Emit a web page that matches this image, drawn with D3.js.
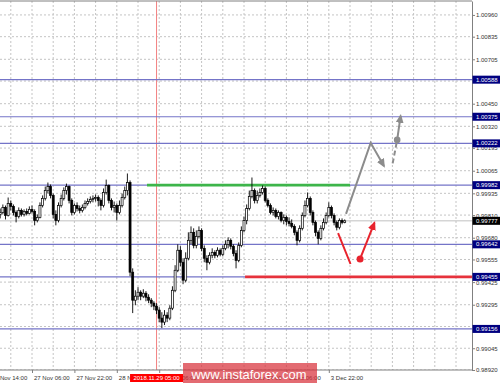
<!DOCTYPE html>
<html>
<head>
<meta charset="utf-8">
<script src="https://cdn.jsdelivr.net/npm/d3@7"></script>
<style>
  body { margin: 0; background: #fff; overflow: hidden; }
  svg { display: block; font-family: "Liberation Sans", Arial, sans-serif; }
</style>
</head>
<body>
<div id="chart"></div>
<script>
// EURCHF H1, one bar per hour (bar 0 = 26 Nov 18:00)
const firstOpen = 0.99814;
const closes = [
  0.99825,0.99854,0.99808,0.99877,0.99860,0.99825,0.99802,0.99837,0.99814,0.99831,
  0.99820,0.99843,0.99831,0.99779,0.99797,0.99865,0.99906,0.99951,0.99974,0.99923,
  0.99814,0.99779,0.99865,0.99906,0.99951,0.99974,0.99894,0.99825,0.99865,0.99848,
  0.99837,0.99854,0.99877,0.99888,0.99900,0.99906,0.99911,0.99894,0.99865,0.99940,
  0.99980,0.99894,0.99854,0.99865,0.99825,0.99865,0.99911,0.99951,0.99997,0.99482,
  0.99321,0.99344,0.99367,0.99344,0.99361,0.99338,0.99321,0.99304,0.99287,0.99264,
  0.99218,0.99195,0.99235,0.99218,0.99275,0.99378,0.99493,0.99608,0.99539,0.99436,
  0.99562,0.99665,0.99711,0.99636,0.99688,0.99722,0.99619,0.99562,0.99539,0.99579,
  0.99596,0.99579,0.99608,0.99585,0.99619,0.99642,0.99665,0.99631,0.99590,0.99550,
  0.99636,0.99722,0.99779,0.99848,0.99917,0.99951,0.99894,0.99923,0.99940,0.99963,
  0.99894,0.99865,0.99825,0.99837,0.99802,0.99825,0.99779,0.99797,0.99774,0.99762,
  0.99745,0.99711,0.99665,0.99734,0.99808,0.99865,0.99906,0.99825,0.99768,0.99711,
  0.99676,0.99734,0.99768,0.99808,0.99854,0.99808,0.99768,0.99740,0.99779,0.99768,
  0.99777
];
const highs = [
  0.99848,0.99871,0.99865,0.99911,0.99894,0.99871,0.99837,0.99854,0.99848,0.99843,
  0.99848,0.99860,0.99865,0.99843,0.99814,0.99883,0.99923,0.99974,0.99997,0.99986,
  0.99934,0.99837,0.99883,0.99928,0.99969,0.99991,0.99980,0.99906,0.99877,0.99883,
  0.99865,0.99871,0.99894,0.99906,0.99917,0.99923,0.99928,0.99923,0.99906,0.99963,
  1.00014,0.99986,0.99906,0.99888,0.99877,0.99894,0.99934,0.99974,1.00049,1.00009,
  0.99504,0.99378,0.99396,0.99378,0.99384,0.99373,0.99355,0.99333,0.99315,0.99304,
  0.99281,0.99252,0.99264,0.99252,0.99292,0.99401,0.99522,0.99642,0.99631,0.99562,
  0.99596,0.99711,0.99745,0.99734,0.99722,0.99745,0.99734,0.99636,0.99579,0.99596,
  0.99619,0.99608,0.99625,0.99619,0.99636,0.99665,0.99682,0.99676,0.99642,0.99608,
  0.99653,0.99745,0.99802,0.99871,0.99951,1.00026,0.99963,0.99951,0.99963,0.99980,
  0.99974,0.99906,0.99877,0.99854,0.99848,0.99837,0.99831,0.99814,0.99808,0.99797,
  0.99785,0.99757,0.99722,0.99751,0.99825,0.99894,0.99940,0.99917,0.99837,0.99779,
  0.99722,0.99751,0.99791,0.99825,0.99883,0.99865,0.99820,0.99779,0.99791,0.99791,
  0.99785
];
const lows = [
  0.99791,0.99814,0.99785,0.99802,0.99837,0.99808,0.99768,0.99791,0.99802,0.99802,
  0.99808,0.99814,0.99820,0.99751,0.99768,0.99791,0.99854,0.99894,0.99934,0.99906,
  0.99791,0.99751,0.99768,0.99854,0.99894,0.99928,0.99877,0.99808,0.99814,0.99831,
  0.99820,0.99825,0.99843,0.99865,0.99877,0.99883,0.99888,0.99860,0.99837,0.99854,
  0.99928,0.99877,0.99837,0.99825,0.99779,0.99814,0.99854,0.99900,0.99923,0.99459,
  0.99247,0.99292,0.99321,0.99321,0.99333,0.99315,0.99304,0.99281,0.99264,0.99241,
  0.99195,0.99161,0.99178,0.99195,0.99206,0.99264,0.99367,0.99482,0.99516,0.99413,
  0.99424,0.99550,0.99642,0.99619,0.99619,0.99676,0.99602,0.99539,0.99493,0.99527,
  0.99562,0.99562,0.99567,0.99573,0.99573,0.99608,0.99619,0.99613,0.99573,0.99504,
  0.99539,0.99625,0.99711,0.99757,0.99837,0.99906,0.99877,0.99877,0.99911,0.99928,
  0.99883,0.99854,0.99814,0.99808,0.99791,0.99785,0.99768,0.99757,0.99751,0.99745,
  0.99734,0.99694,0.99636,0.99653,0.99722,0.99797,0.99854,0.99808,0.99751,0.99688,
  0.99642,0.99665,0.99722,0.99757,0.99797,0.99791,0.99751,0.99722,0.99728,0.99757,
  0.99763
];

const priceTicks = [1.00960,1.00835,1.00705,1.00580,1.00450,1.00320,1.00195,1.00065,
  0.99935,0.99810,0.99680,0.99555,0.99425,0.99295,0.99170,0.99045,0.98920];
const timeTickBars = [-4,12,28,44,60,76,92,108,124];
const timeTickLabels = ["26 Nov 14:00","27 Nov 06:00","27 Nov 22:00","28 Nov 14:00",
  "29 Nov 06:00","29 Nov 22:00","30 Nov 14:00","3 Dec 06:00","3 Dec 22:00"];

const levels = [1.00588,1.00375,1.00222,0.99982,0.99642,0.99455,0.99156];
const bidPrice = 0.99777;
const markedBar = 59, markedLabel = "2018.11.29 05:00";

// drawn zones: [price, fromBar, toBar]
const resistance = [0.99982, 55.4, 132];
const support = [0.99455, 92.4, 178];

// forecast paths: [bar, price]
const grayPath = [[130.5,0.99817],[139.8,1.00225],[144.8,1.00092]];
const grayDash = [[148.1,1.00107],[149.8,1.00242]];
const grayUp = [[149.8,1.00242],[151.1,1.00380]];
const redPath = [[127.5,0.99707],[132.2,0.99529]];
const redUp = [[135.8,0.99558],[141.2,0.99765]];

const width = 500, height = 386;
const plotRight = 472, plotBottom = 370;

const svg = d3.select("#chart").append("svg")
  .attr("width", width).attr("height", height);

const x = d3.scaleLinear().domain([0, 178]).range([0.2, 0.2 + 178 * 2.65]);
const y = d3.scaleLinear().domain([0.98920, 1.01040]).range([plotBottom, 1]);

const defs = svg.append("defs");
[["gray", "#8c8c8c"], ["red", "#e8232d"]].forEach(([id, col]) => {
  defs.append("marker")
    .attr("id", "head-" + id)
    .attr("markerUnits", "userSpaceOnUse")
    .attr("markerWidth", 10).attr("markerHeight", 8)
    .attr("refX", 7).attr("refY", 4)
    .attr("orient", "auto")
    .append("path").attr("d", "M0,0 L9,4 L0,8 z").attr("fill", col);
});

defs.append("clipPath").attr("id", "plot")
  .append("rect").attr("x", 0).attr("y", 1).attr("width", plotRight).attr("height", plotBottom - 1);

const plot = svg.append("g").attr("clip-path", "url(#plot)");

// grid
plot.selectAll("line.hgrid").data(priceTicks).join("line")
  .attr("x1", 0).attr("x2", plotRight)
  .attr("y1", d => y(d)).attr("y2", d => y(d))
  .attr("stroke", "#c4c4c4").attr("stroke-dasharray", "2,2");
plot.selectAll("line.vgrid").data(d3.range(4, 178, 8)).join("line")
  .attr("x1", d => x(d)).attr("x2", d => x(d))
  .attr("y1", 1).attr("y2", plotBottom)
  .attr("stroke", "#c4c4c4").attr("stroke-dasharray", "2,2");

// marked time
plot.append("line")
  .attr("x1", x(markedBar)).attr("x2", x(markedBar))
  .attr("y1", 1).attr("y2", plotBottom)
  .attr("stroke", "#f28080").attr("stroke-width", 1);

// level lines
plot.selectAll("line.level").data(levels).join("line")
  .attr("x1", 0).attr("x2", plotRight)
  .attr("y1", d => y(d)).attr("y2", d => y(d))
  .attr("stroke", "#7474c8").attr("stroke-width", 1.2);

plot.append("line")
  .attr("x1", 0).attr("x2", plotRight)
  .attr("y1", y(bidPrice)).attr("y2", y(bidPrice))
  .attr("stroke", "#c0c0c0");

plot.append("line")
  .attr("x1", x(resistance[1])).attr("x2", x(resistance[2]))
  .attr("y1", y(resistance[0])).attr("y2", y(resistance[0]))
  .attr("stroke", "#3db54a").attr("stroke-width", 2.6);
plot.append("line")
  .attr("x1", x(support[1])).attr("x2", x(support[2]))
  .attr("y1", y(support[0])).attr("y2", y(support[0]))
  .attr("stroke", "#e6323c").attr("stroke-width", 2.6);

// candles
const bars = closes.map((c, i) => ({
  i, c, o: i ? closes[i - 1] : firstOpen, h: highs[i], l: lows[i]
}));

const candle = plot.selectAll("g.candle").data(bars).join("g");
candle.append("line")
  .attr("x1", d => x(d.i)).attr("x2", d => x(d.i))
  .attr("y1", d => y(d.h)).attr("y2", d => y(d.l))
  .attr("stroke", "#000").attr("stroke-width", 0.9);
candle.append("rect")
  .attr("x", d => x(d.i) - 1)
  .attr("width", 2)
  .attr("y", d => y(Math.max(d.o, d.c)))
  .attr("height", d => Math.max(0.8, Math.abs(y(d.o) - y(d.c))))
  .attr("fill", d => d.c < d.o ? "#000" : "#fff")
  .attr("stroke", "#000").attr("stroke-width", 0.7);

// forecast arrows
const line = d3.line().x(d => x(d[0])).y(d => y(d[1]));
plot.append("path").attr("d", line(grayPath))
  .attr("fill", "none").attr("stroke", "#8c8c8c").attr("stroke-width", 2)
  .attr("marker-end", "url(#head-gray)");
plot.append("path").attr("d", line(grayDash))
  .attr("fill", "none").attr("stroke", "#8c8c8c").attr("stroke-width", 2)
  .attr("stroke-dasharray", "5,3");
plot.append("path").attr("d", line(grayUp))
  .attr("fill", "none").attr("stroke", "#8c8c8c").attr("stroke-width", 2)
  .attr("marker-end", "url(#head-gray)");
plot.append("circle")
  .attr("cx", x(grayUp[0][0])).attr("cy", y(grayUp[0][1])).attr("r", 3.3)
  .attr("fill", "#8c8c8c");

plot.append("path").attr("d", line(redPath))
  .attr("fill", "none").attr("stroke", "#e8232d").attr("stroke-width", 2);
plot.append("path").attr("d", line(redUp))
  .attr("fill", "none").attr("stroke", "#e8232d").attr("stroke-width", 2)
  .attr("marker-end", "url(#head-red)");
plot.append("circle")
  .attr("cx", x(redUp[0][0])).attr("cy", y(redUp[0][1])).attr("r", 3.5)
  .attr("fill", "#e8232d");

// frame
svg.append("line")
  .attr("x1", 0).attr("x2", plotRight).attr("y1", 1).attr("y2", 1)
  .attr("stroke", "#808080");

// price axis
const yAxis = svg.append("g")
  .attr("transform", `translate(${plotRight},0)`)
  .call(d3.axisRight(y).tickValues(priceTicks).tickSize(3).tickSizeOuter(0)
    .tickPadding(1).tickFormat(d => d.toFixed(5)));
yAxis.select(".domain").attr("stroke", "#808080");
yAxis.selectAll(".tick line").attr("stroke", "#808080");
yAxis.selectAll("text").attr("font-size", 6).attr("fill", "#333")
  .attr("font-family", "Liberation Sans, Arial, sans-serif");

// time axis
const xAxis = svg.append("g")
  .attr("transform", `translate(0,${plotBottom})`)
  .call(d3.axisBottom(x).tickValues(timeTickBars).tickSize(3).tickSizeOuter(0)
    .tickPadding(3).tickFormat((d, i) => timeTickLabels[i]));
xAxis.select(".domain").attr("stroke", "#808080").attr("d", `M-1,0H${plotRight}`);
xAxis.selectAll(".tick line").attr("stroke", "#808080");
xAxis.selectAll("text").attr("font-size", 6).attr("fill", "#333")
  .attr("text-anchor", "start").attr("dx", 1.5)
  .attr("font-family", "Liberation Sans, Arial, sans-serif");

// level price tags
const tags = svg.selectAll("g.tag").data(levels.map(v => [v, "#000080"]).concat([[bidPrice, "#000"]]))
  .join("g").attr("transform", d => `translate(${plotRight + 0.5},${y(d[0])})`);
tags.append("rect").attr("x", 0).attr("y", -4).attr("width", 28).attr("height", 8)
  .attr("fill", d => d[1]);
tags.append("text").attr("x", 3.5).attr("dy", "0.35em")
  .attr("font-size", 6).attr("fill", "#fff")
  .text(d => d[0].toFixed(5));

// marked time tag
const mt = svg.append("g").attr("transform", `translate(${x(markedBar)},${plotBottom + 4})`);
mt.append("rect").attr("x", -26.5).attr("y", 0).attr("width", 53).attr("height", 8)
  .attr("fill", "#ff0000");
mt.append("text").attr("y", 6).attr("text-anchor", "middle")
  .attr("font-size", 6).attr("fill", "#fff").text(markedLabel);

// watermark
const wm = svg.append("g");
wm.append("rect").attr("x", 183).attr("y", 363).attr("width", 134).attr("height", 20)
  .attr("fill", "#d8323c").attr("opacity", 0.72);
wm.append("text").attr("x", 191.5).attr("y", 379)
  .attr("font-size", 13).attr("fill", "#fff")
  .attr("textLength", 115).attr("lengthAdjust", "spacingAndGlyphs")
  .text("www.instaforex.com");
</script>
</body>
</html>
